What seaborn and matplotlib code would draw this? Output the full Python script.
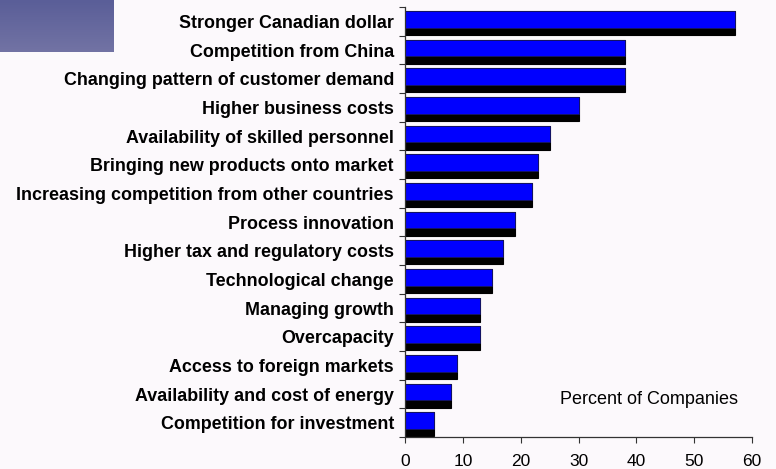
import numpy as np
import pandas as pd
import matplotlib
matplotlib.use("Agg")
import matplotlib.pyplot as plt
from matplotlib.ticker import FixedLocator
import seaborn as sns

reasons = [
    "Stronger Canadian dollar",
    "Competition from China",
    "Changing pattern of customer demand",
    "Higher business costs",
    "Availability of skilled personnel",
    "Bringing new products onto market",
    "Increasing competition from other countries",
    "Process innovation",
    "Higher tax and regulatory costs",
    "Technological change",
    "Managing growth",
    "Overcapacity",
    "Access to foreign markets",
    "Availability and cost of energy",
    "Competition for investment",
]
percent = [57, 38, 38, 30, 25, 23, 22, 19, 17, 15, 13, 13, 9, 8, 5]
x_ticks = [0, 10, 20, 30, 40, 50, 60]
axis_title = "Percent of Companies"

df = pd.DataFrame({"reason": reasons, "percent": percent})

sns.set_theme(style="ticks")
plt.rcParams["font.family"] = ["Liberation Sans", "DejaVu Sans"]

bg = "#fcf9fc"
fig = plt.figure(figsize=(7.76, 4.69), dpi=100, facecolor=bg)
ax = fig.add_axes([0.522, 0.068, 0.447, 0.917], facecolor=bg)

# dark lower face of each bar (sits behind the blue face and shows beneath it)
sns.barplot(data=df, x="percent", y="reason", color="black", width=0.83,
            saturation=1, edgecolor="black", linewidth=0.8, ax=ax)
for p in ax.patches:
    p.set_y(p.get_y() + 0.055)
n_dark = len(ax.patches)

# blue front face, raised toward the top of each band
sns.barplot(data=df, x="percent", y="reason", color="#0000ff", width=0.58,
            saturation=1, edgecolor="#1a1a5a", linewidth=0.5, ax=ax)
for p in ax.patches[n_dark:]:
    p.set_y(p.get_y() - 0.07)

ax.set_xlim(0, 60)
ax.set_ylim(len(reasons) - 0.5, -0.5)
ax.set_xlabel("")
ax.set_ylabel("")
ax.set_xticks(x_ticks)
ax.set_xticklabels([str(t) for t in x_ticks], fontsize=12.5, color="black")

# category labels centred on bars, tick marks on the band boundaries
ax.set_yticks(range(len(reasons)))
ax.set_yticklabels(reasons, fontsize=12.9, fontweight="bold", color="black")
ax.tick_params(axis="y", which="major", length=0, pad=8)
ax.yaxis.set_minor_locator(FixedLocator(np.arange(-0.5, len(reasons), 1.0)))
ax.tick_params(axis="y", which="minor", length=4, width=0.8, color="#333333")
ax.tick_params(axis="x", length=4, width=0.8, color="#333333", pad=8)

for side in ("top", "right"):
    ax.spines[side].set_visible(False)
for side in ("left", "bottom"):
    ax.spines[side].set_color("#333333")
    ax.spines[side].set_linewidth(0.9)

ax.text(42.2, 13.2, axis_title, ha="center", va="center", fontsize=13,
        color="black")

# shaded block in the upper-left corner
corner = fig.add_axes([0, 1 - 52 / 469, 114 / 776, 52 / 469])
grad = np.linspace(0, 1, 64).reshape(-1, 1)
corner.imshow(grad, aspect="auto", extent=[0, 1, 0, 1],
              cmap=matplotlib.colors.LinearSegmentedColormap.from_list(
                  "blk", ["#5a5e98", "#7273a4"]))
corner.set_axis_off()

fig.savefig("out.png", dpi=100, facecolor=bg)
